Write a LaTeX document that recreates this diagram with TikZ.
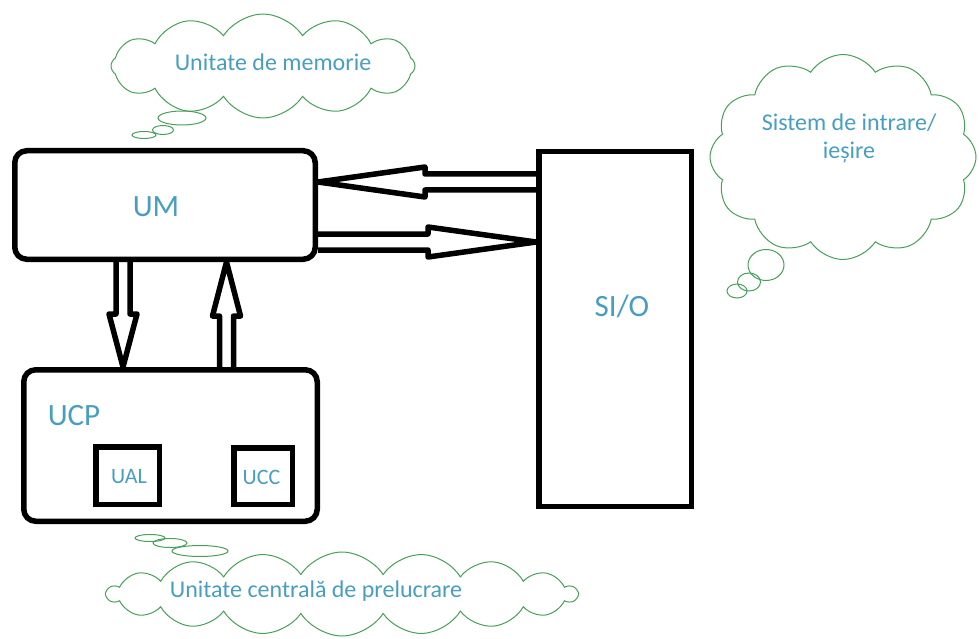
\documentclass[tikz,border=0pt]{standalone}
\usepackage{fontspec}
\setmainfont{Carlito}
\usetikzlibrary{calc}
\usetikzlibrary{shapes.symbols}
\definecolor{labelblue}{RGB}{72,158,192}
\definecolor{cloudgreen}{RGB}{70,160,90}

\begin{document}
\begin{tikzpicture}[x=1pt, y=-1pt,
                    roundedbox/.style={draw, line width=5.5pt, rounded corners=12pt, inner sep=0},
                    squaredbox/.style={draw, line width=5.5pt, inner sep=0},
                    bigtext/.style={text=labelblue, inner sep=0, font=\fontsize{31}{36}\selectfont},
                    smalltext/.style={text=labelblue, inner sep=0, font=\fontsize{22}{26}\selectfont},
                    cloudtext/.style={text=labelblue, inner sep=0, align=center, font=\fontsize{24}{28}\selectfont},
                    cloudnode/.style={cloud, cloud puffs=#1, cloud puff arc=115, cloud ignores aspect, draw=cloudgreen, line width=1pt, inner sep=0},
                    bubble/.style={draw=cloudgreen, line width=1pt},
                    blockarrow/.style n args={3}{line width=5.5pt, line join=round,
                      to path={($(\tikztotarget)!#1!(\tikztostart)$) coordinate (head)
                        ($(\tikztostart)!#2!90:(\tikztotarget)$) -- ($(head)!#2!90:(\tikztotarget)$)
                        -- ($(head)!#3!90:(\tikztotarget)$) -- (\tikztotarget)
                        -- ($(head)!#3!-90:(\tikztotarget)$) -- ($(head)!#2!-90:(\tikztotarget)$)
                        -- ($(\tikztostart)!#2!-90:(\tikztotarget)$)}}
                   ]
\useasboundingbox (0,0) rectangle (979,639);
%Boxes
\node[roundedbox, minimum width=300.5pt, minimum height=108.5pt] (UM)  at (165,205)   {};
\node[roundedbox, minimum width=293.5pt, minimum height=151.5pt] (UCP) at (170.5,445.5) {};
\node[squaredbox, minimum width=152.5pt, minimum height=354.5pt] (SIO) at (615,329)   {};
\node[squaredbox, minimum width=63.5pt,  minimum height=57.5pt]  (UAL) at (127.5,475.5) {};
\node[squaredbox, minimum width=58.5pt,  minimum height=56.5pt]  (UCC) at (263,476)   {};
%Labels
\node[bigtext]   (UMtext)  at (156,207) {UM};
\node[bigtext]   (UCPtext) at (74,416)  {UCP};
\node[bigtext]   (SIOtext) at (622,306) {SI/O};
\node[smalltext] (UALtext) at (129,477) {UAL};
\node[smalltext] (UCCtext) at (261.5,477) {UCC};
%Clouds
\node[cloudnode=12, minimum width=304pt, minimum height=104pt] (memcloud) at (263,66)  {};
\node[cloudnode=12, minimum width=266pt, minimum height=205pt] (iocloud)  at (843,157) {};
\node[cloudnode=18, minimum width=470pt, minimum height=84pt]  (cpucloud) at (342,594) {};
\node[cloudtext] (memtext) at (273,62)  {Unitate de memorie};
\node[cloudtext] (iotext)  at (849,138) {Sistem de intrare/\\ieșire};
\node[cloudtext] (cputext) at (316,591) {Unitate centrală de prelucrare};
% bubbles
\draw[bubble] (182,118) ellipse [x radius=24, y radius=7];
\draw[bubble] (163,130) ellipse [x radius=10.5, y radius=4.5];
\draw[bubble] (144,135) ellipse [x radius=12, y radius=3.5];
\draw[bubble] (766,265) ellipse [x radius=18, y radius=15.5];
\draw[bubble] (749,282) ellipse [x radius=11.5, y radius=9];
\draw[bubble] (737,291) ellipse [x radius=10, y radius=7];
\draw[bubble] (150,538) ellipse [x radius=15, y radius=3.5];
\draw[bubble] (170,543) ellipse [x radius=17, y radius=4.5];
\draw[bubble] (200,551) ellipse [x radius=28, y radius=5.5];
%Arrows
\draw[blockarrow={107pt}{8pt}{15pt}] ([yshift=23pt]UM.east -| SIO.west) to ([yshift=23pt]UM.east);
\draw[blockarrow={108pt}{8pt}{15pt}] ([yshift=-37pt]UM.east) to ([yshift=-37pt]UM.east -| SIO.west);
\draw[blockarrow={53pt}{7pt}{14pt}] ([xshift=-42pt]UM.south) to ([xshift=-42pt]UM.south |- UCP.north);
\draw[blockarrow={54pt}{7pt}{14pt}] ([xshift=61.5pt]UM.south |- UCP.north) to ([xshift=61.5pt]UM.south);
\end{tikzpicture}
\end{document}
